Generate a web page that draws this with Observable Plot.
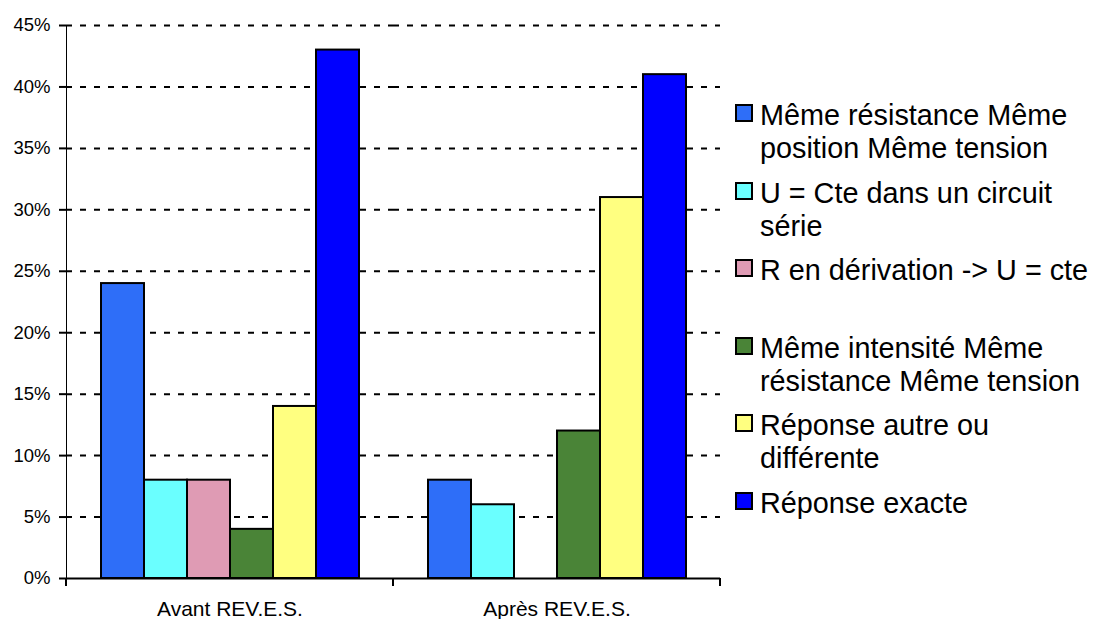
<!DOCTYPE html>
<html>
<head>
<meta charset="utf-8">
<script src="https://cdn.jsdelivr.net/npm/d3@7"></script>
<script src="https://cdn.jsdelivr.net/npm/@observablehq/plot@0.6"></script>
<style>
  html, body { margin: 0; padding: 0; background: #fff; overflow: hidden; }
  #wrap { position: relative; width: 1095px; height: 619px; font-family: "Liberation Sans", Arial, sans-serif; }
  #chart { position: absolute; left: 0; top: 0; }
  #legend { position: absolute; left: 735px; top: 99px; }
  .item { display: flex; align-items: flex-start; height: 77.5px; }
  .sw { width: 14px; height: 14px; border: 2px solid #000; margin-top: 5px; margin-right: 7px; flex: none; }
  .lab { font-size: 28.8px; line-height: 33px; width: 336px; color: #000; }
  g[aria-label="fx-axis tick label"] { font-size: 21px; }
  g[aria-label="y-axis tick label"] { font-size: 18.5px; }
  g[aria-label="y-axis tick"] path, g[aria-label="y-axis tick"] { stroke-width: 2; }
</style>
</head>
<body>
<div id="wrap"><div id="chart"></div><div id="legend"></div></div>
<script>
// ---- data ----
const groups = ["Avant REV.E.S.", "Après REV.E.S."];
const series = [
  "Même résistance Même position Même tension",
  "U = Cte dans un circuit série",
  "R en dérivation -> U = cte",
  "Même intensité Même résistance Même tension",
  "Réponse autre ou différente",
  "Réponse exacte"
];
const valuesAvant = [24, 8, 8, 4, 14, 43];
const valuesApres = [8, 6, 0, 12, 31, 41];
const yTicks = [0, 5, 10, 15, 20, 25, 30, 35, 40, 45];
const palette = ["#2E6EF8", "#6AFFFF", "#DF9BB4", "#4A8437", "#FFFF80", "#0000FF"];

const rows = [];
[valuesAvant, valuesApres].forEach((vals, gi) => {
  vals.forEach((v, si) => rows.push({group: groups[gi], series: series[si], value: v}));
});

const plot = Plot.plot({
  width: 725,
  height: 619,
  marginLeft: 66,
  marginRight: 5,
  marginTop: 25,
  marginBottom: 41,
  style: {fontFamily: "Liberation Sans, Arial, sans-serif", fontSize: "18px", color: "#000", background: "#fff", overflow: "visible"},
  fx: {domain: groups, padding: 0, axis: "bottom", tickSize: 0, tickPadding: 23, label: null},
  x: {domain: series, paddingInner: 0, paddingOuter: 0.758, axis: null},
  y: {domain: [0, 45], ticks: yTicks, tickFormat: d => d + "%", tickSize: 7, tickPadding: 9, line: true, label: null},
  color: {domain: series, range: palette},
  marks: [
    Plot.ruleY(yTicks.filter(d => d > 0), {stroke: "#000", strokeWidth: 2, strokeDasharray: "6,8"}),
    Plot.barY(rows, {fx: "group", x: "series", y: "value", fill: "series", stroke: "#000", strokeWidth: 2}),
    Plot.ruleY([0], {stroke: "#000", strokeWidth: 2})
  ]
});
document.getElementById("chart").appendChild(plot);

// group boundary ticks under the x axis, placed with the plot's own scales
const fx = plot.scale("fx");
const ys = plot.scale("y");
const y0 = ys.apply(0);
const edges = [];
groups.forEach(g => { edges.push(fx.apply(g)); });
edges.push(fx.apply(groups[groups.length - 1]) + fx.bandwidth);
d3.select(plot).append("g")
  .selectAll("line").data(edges).join("line")
  .attr("x1", d => d).attr("x2", d => d)
  .attr("y1", y0).attr("y2", y0 + 8)
  .attr("stroke", "#000").attr("stroke-width", 2);

// legend
const leg = d3.select("#legend");
series.forEach((s, i) => {
  const it = leg.append("div").attr("class", "item");
  it.append("div").attr("class", "sw").style("background", palette[i]);
  it.append("div").attr("class", "lab").text(s);
});
</script>
</body>
</html>
